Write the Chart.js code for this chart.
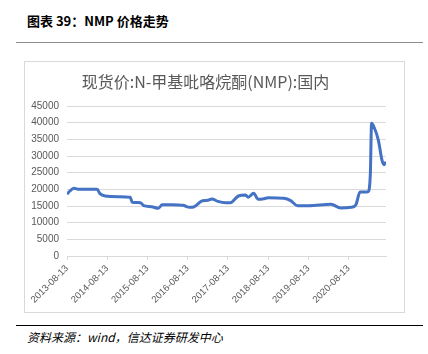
<!DOCTYPE html>
<html>
<head>
<meta charset="utf-8">
<script src="https://cdn.jsdelivr.net/npm/chart.js@4"></script>
<style>
  body { margin: 0; width: 428px; height: 354px; background: #fff; position: relative; overflow: hidden; }
  #head { position: absolute; left: 27px; top: 11px; font: bold 13px "Noto Sans CJK SC", sans-serif; color: #000; }
  #rule1 { position: absolute; left: 16px; top: 42px; width: 407px; height: 0; border-top: 1.5px solid #8c8c8c; }
  #box { position: absolute; left: 24px; top: 61px; width: 381px; height: 252px; border: 1px solid #d9d9d9; box-sizing: border-box; }
  #wrap { position: absolute; left: 0; top: 0; width: 379px; height: 250px; }
  #rule2 { position: absolute; left: 16px; top: 325px; width: 407px; height: 0; border-top: 1px solid #000; }
  #src { position: absolute; left: 27px; top: 328px; font: italic 12px "Noto Sans CJK SC", sans-serif; color: #000; }
</style>
</head>
<body>
<div id="head">图表 39：NMP 价格走势</div>
<div id="rule1"></div>
<div id="box"><div id="wrap"><canvas id="nmpChart"></canvas></div></div>
<div id="rule2"></div>
<div id="src">资料来源：wind，信达证券研发中心</div>
<script>
const chartTitle = "现货价:N-甲基吡咯烷酮(NMP):国内";
const startDate = "2013-08-13";
const dates = [
  "2013-08-13", "2013-09-08", "2013-10-15", "2013-12-01", "2014-05-13", "2014-06-08",
  "2014-07-25", "2014-12-01", "2015-03-10", "2015-03-28", "2015-06-10", "2015-07-10",
  "2015-09-20", "2015-11-20", "2015-12-25", "2016-03-20", "2016-07-01", "2016-08-30",
  "2016-10-05", "2016-12-25", "2017-02-12", "2017-03-20", "2017-05-13", "2017-07-25",
  "2017-09-03", "2017-11-15", "2018-01-20", "2018-02-12", "2018-04-03", "2018-05-15",
  "2018-07-06", "2018-08-13", "2019-01-03", "2019-03-05", "2019-05-06", "2019-08-13",
  "2020-03-05", "2020-05-31", "2020-09-03", "2020-10-17", "2020-11-23", "2021-02-04",
  "2021-02-25", "2021-03-08", "2021-03-30", "2021-05-09", "2021-06-11", "2021-06-29",
  "2021-07-17"
];
const prices = [
  18500, 19500, 20300, 20000, 20000, 18700,
  18000, 17800, 17600, 16100, 16000, 15100,
  14800, 14300, 15400, 15400, 15200, 14600,
  14700, 16600, 16700, 17100, 16400, 16000,
  16000, 18000, 18300, 17600, 18800, 17000,
  17200, 17500, 17300, 16600, 15100, 15100,
  15500, 14400, 14600, 15400, 19200, 19300,
  24700, 39800, 38700, 34700, 28700, 27400,
  28200
];
const yearTicks = [0, 1, 2, 3, 4, 5, 6, 7];

const t0 = new Date(startDate).getTime();
function toYears(d) {
  return (new Date(d).getTime() - t0) / (365.25 * 24 * 3600 * 1000);
}
const points = dates.map((d, i) => ({ x: toYears(d), y: prices[i] }));

const ctx = document.getElementById("nmpChart").getContext("2d");
new Chart(ctx, {
  type: "line",
  data: {
    datasets: [{
      data: points,
      borderColor: "#4472C4",
      borderWidth: 3,
      pointRadius: 0,
      cubicInterpolationMode: "monotone",
      fill: false
    }]
  },
  options: {
    responsive: true,
    maintainAspectRatio: false,
    animation: false,
    layout: { padding: { left: 0, right: 18, top: 0, bottom: 0 } },
    plugins: {
      legend: { display: false },
      tooltip: { enabled: false },
      title: {
        display: true,
        text: chartTitle,
        color: "#595959",
        font: { family: "'Noto Sans CJK SC', sans-serif", size: 16, weight: "normal" },
        padding: { top: 10, bottom: 14.8 }
      }
    },
    scales: {
      x: {
        type: "linear",
        min: 0,
        max: toYears(dates[dates.length - 1]),
        afterBuildTicks: scale => { scale.ticks = yearTicks.map(v => ({ value: v })); },
        afterFit: scale => { scale.height = 56; },
        grid: { drawOnChartArea: false, drawTicks: true, tickLength: 4, color: "#d9d9d9" },
        border: { color: "#d9d9d9" },
        ticks: {
          autoSkip: false,
          minRotation: 45,
          maxRotation: 45,
          color: "#595959",
          font: { family: "'Liberation Sans', sans-serif", size: 9.5 },
          callback: v => (2013 + Math.round(v)) + "-08-13"
        }
      },
      y: {
        min: 0,
        max: 45000,
        afterFit: scale => { scale.width = 42; },
        grid: { color: "#d9d9d9", drawTicks: false },
        border: { display: false },
        ticks: {
          stepSize: 5000,
          padding: 8,
          color: "#595959",
          font: { family: "'Liberation Sans', sans-serif", size: 10 },
          callback: v => String(v)
        }
      }
    }
  }
});
</script>
</body>
</html>
